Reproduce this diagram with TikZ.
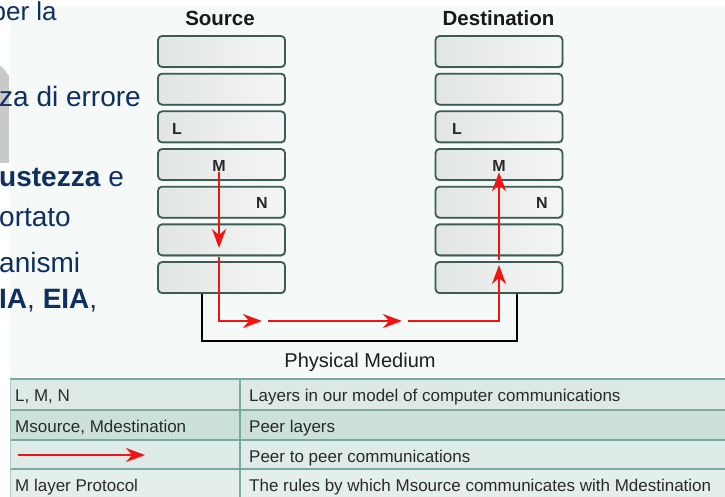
\documentclass[tikz,border=0pt]{standalone}
\usepackage{fontspec}
\setmainfont{Liberation Sans}
\usetikzlibrary{arrows.meta,shadows}
\definecolor{navy}{HTML}{0E2F5F}
\definecolor{panel}{HTML}{F5F9F7}
\definecolor{boxedge}{HTML}{3B5C57}
\definecolor{boxL}{HTML}{E1E5E4}
\definecolor{boxR}{HTML}{F4F6F5}
\definecolor{peerred}{HTML}{F01414}
\definecolor{rule}{HTML}{7AA9A0}
\definecolor{rowA}{HTML}{DDE9E6}
\definecolor{rowB}{HTML}{CDE1DB}
\definecolor{rowC}{HTML}{DFEBE8}
\definecolor{rowD}{HTML}{E4EEEB}
\definecolor{celltext}{HTML}{2A2A2A}
\definecolor{slidegray}{HTML}{C9C9C9}
\begin{document}
\begin{tikzpicture}[x=1pt,y=-1pt,
  layer/.style={draw=boxedge, line width=1.8pt, rounded corners=4pt,
    minimum width=127pt, minimum height=31pt, inner sep=0pt,
    left color=boxL, right color=boxR,
    drop shadow={shadow xshift=0.8pt, shadow yshift=-1.2pt, opacity=0.35, fill=black!60}},
  lname/.style={font=\bfseries\fontsize{16}{16}\selectfont, text=black!85, inner sep=1pt},
  title/.style={font=\bfseries\fontsize{20.5}{22}\selectfont, text=black!90, anchor=base, inner sep=0pt},
  slide/.style={font=\fontsize{28}{30}\selectfont, text=navy, anchor=base west, inner sep=0pt},
  peer/.style={draw=peerred, line width=2.2pt, -{Stealth[length=19pt,width=14pt,inset=6pt]}},
  cell/.style={font=\fontsize{17}{17}\selectfont, text=celltext, anchor=base west, inner sep=0pt},
  medium/.style={draw=black, line width=2pt},
]
\useasboundingbox (0,0) rectangle (725,497);

% diagram panel and the grey shape at the left edge
\fill[panel] (10,6) rectangle (725,497);
\fill[slidegray] (0,66) -- (3,68) -- (9,76) -- (9,163) -- (0,163) -- cycle;

% legend table
\fill[rowA] (10,379) rectangle (725,410);
\fill[rowB] (10,410) rectangle (725,440);
\fill[rowC] (10,440) rectangle (725,469);
\fill[rowD] (10,469) rectangle (725,497);
\foreach \yy in {379,410,440,469} \draw[rule, line width=2pt] (10,\yy) -- (725,\yy);
\draw[rule, line width=1.5pt] (240,379) -- (240,497);
\draw[rule!60, line width=0.8pt] (10,379) -- (10,497);

% protocol stacks
\foreach \k [evaluate=\k as \cy using 51.5+37.67*(\k-1)] in {1,...,7} {
  \node[layer] (s\k) at (221.5,\cy) {};
  \node[layer] (d\k) at (499,\cy) {};
}
\node[title] (srcT) at (220,26) {Source};
\node[title] (dstT) at (498.5,26) {Destination};

\node[lname] (lS) at (177,128.5) {L};
\node[lname] (mS) at (219,165.5) {M};
\node[lname] (nS) at (262,203) {N};
\node[lname] (lD) at (457,128.5) {L};
\node[lname] (mD) at (499,165.5) {M};
\node[lname] (nD) at (542,203) {N};

% physical medium
\coordinate (pmL) at (202,341);
\coordinate (pmR) at (517,341);
\draw[medium] (s7.south -| pmL) -- (pmL) -- (pmR) -- (d7.south -| pmR);
\node[font=\fontsize{20}{22}\selectfont, text=black!88, anchor=base, inner sep=0pt] (phys) at (360,367) {Physical Medium};

% peer to peer path
\coordinate (r1) at (219,248);
\coordinate (r2) at (219,257);
\coordinate (c1) at (219,321);
\coordinate (r3) at (262,321);
\coordinate (r4) at (268,321);
\coordinate (r5) at (402,321);
\coordinate (r6) at (408,321);
\coordinate (c2) at (499,321);
\coordinate (r7) at (499,265);
\coordinate (r8) at (499,260);
\draw[peer] (mS.south) -- (r1);
\draw[peer] (r2) -- (c1) -- (r3);
\draw[peer] (r4) -- (r5);
\draw[peer] (r6) -- (c2) -- (r7);
\draw[peer] (r8) -- (mD.south);

% legend entries
\node[cell] (c11) at (15,401) {L, M, N};
\node[cell] (c21) at (15,432) {Msource, Mdestination};
\coordinate (k1) at (18,455);
\coordinate (k2) at (145,455);
\draw[peer, line width=2pt] (k1) -- (k2);
\node[cell] (c41) at (15,491) {M layer Protocol};
\node[cell] (c12) at (249,401) {Layers in our model of computer communications};
\node[cell] (c22) at (249,432) {Peer layers};
\node[cell] (c32) at (249,462) {Peer to peer communications};
\node[cell] (c42) at (249,491) {The rules by which Msource communicates with Mdestination};

% slide text lying over the panel
\node[slide, font=\fontsize{26}{28}\selectfont] (t1) at (-8.5,21) {per la};
\node[slide] (t2) at (-1,107) {za di errore};
\node[slide] (t3) at (-1,187) {\textbf{ustezza} e};
\node[slide] (t4) at (-1,226) {ortato};
\node[slide] (t5) at (-1,272) {anismi};
\node[slide] (t6) at (-1,308) {\textbf{IA}, \textbf{EIA},};
\end{tikzpicture}
\end{document}
